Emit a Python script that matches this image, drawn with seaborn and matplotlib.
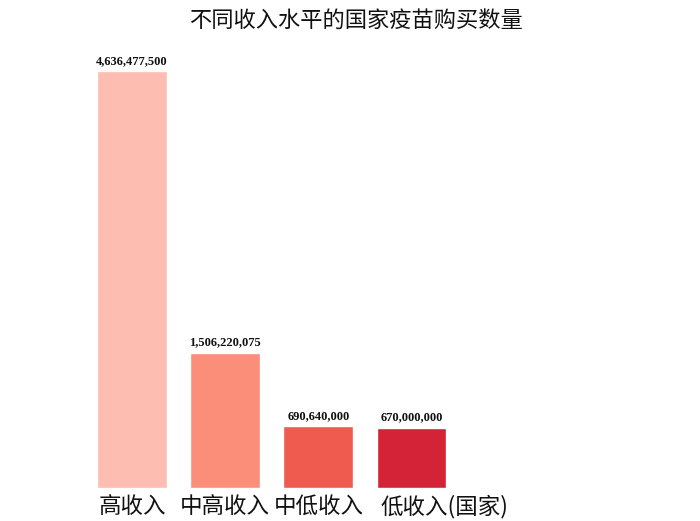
import matplotlib
matplotlib.use("Agg")
import matplotlib.pyplot as plt
import matplotlib.transforms as mtransforms
import seaborn as sns
import pandas as pd

categories = ["高收入", "中高收入", "中低收入", "低收入(国家)"]
purchases = [4636477500, 1506220075, 690640000, 670000000]
bar_colors = ["#fdbdb1", "#fb8e78", "#ef5b4f", "#d42236"]
title = "不同收入水平的国家疫苗购买数量"

sns.set_theme(style="white")
plt.rcParams['font.family'] = ['Noto Sans CJK SC', 'DejaVu Sans']

df = pd.DataFrame({"category": categories, "value": purchases})

fig = plt.figure(figsize=(7.0, 5.21), dpi=100)
ax = fig.add_axes([85.4 / 700, 33 / 521, 372.7 / 700, 417 / 521])
sns.barplot(data=df, x="category", y="value", hue="category", palette=bar_colors,
            width=0.75, legend=False, ax=ax, saturation=1)

ax.set_xlim(-0.5, 3.5)
ax.set_ylim(0, purchases[0])
for s in ax.spines.values():
    s.set_visible(False)
ax.set_yticks([])
ax.set_xlabel("")
ax.set_ylabel("")
ax.tick_params(axis="x", length=0, pad=5, labelsize=16.2, colors="#111111")

for lbl in ax.get_xticklabels():
    if lbl.get_text() == categories[-1]:
        lbl.set_transform(lbl.get_transform() +
                          mtransforms.ScaledTranslation(33 / 100, 0, fig.dpi_scale_trans))

for p, v in zip(ax.patches, purchases):
    ax.annotate(f"{v:,}", (p.get_x() + p.get_width() / 2, p.get_height()),
                xytext=(0, 3), textcoords="offset points", ha="center", va="bottom",
                fontsize=9, fontweight="bold", family="Liberation Serif",
                color="#111111", annotation_clip=False)

fig.text(356 / 700, 1 - 20 / 521, title, ha="center", va="center",
         fontsize=16, color="#111111")

fig.savefig("out.png", dpi=100, facecolor="white")
